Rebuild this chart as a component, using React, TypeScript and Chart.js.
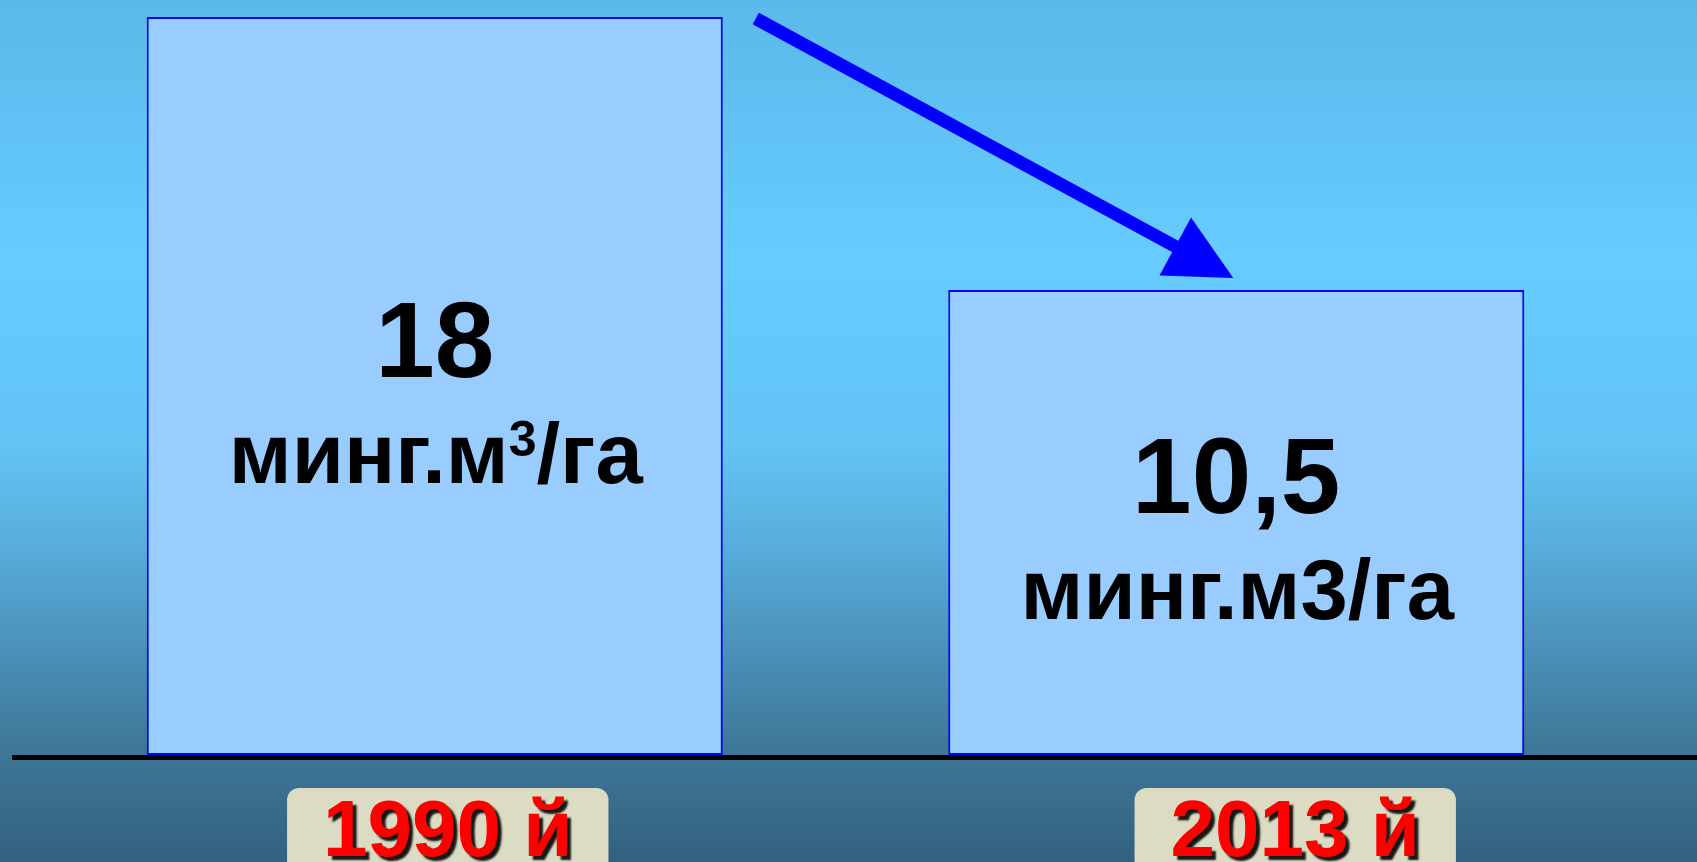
import React, { useEffect, useRef } from "react";
import { Chart, registerables } from "chart.js";

Chart.register(...registerables);

// ---- data ----
const categories = ["1990 й", "2013 й"];
const values = [18, 10.5];
const valueLabels = ["18", "10,5"];
const unitLabels = ["минг.м³/га", "минг.м3/га"];
const axisMin = -2.28;
const axisMax = 18;

const W = 1697;
const H = 862;
const FONT = '"Liberation Sans", Arial, Helvetica, sans-serif';

function drawUnit(ctx: CanvasRenderingContext2D, text: string, cx: number, baseline: number) {
  const mainFont = `bold 85px ${FONT}`;
  const supFont = `bold 50px ${FONT}`;
  const parts = text.split("³");
  ctx.textAlign = "left";
  ctx.textBaseline = "alphabetic";
  if (parts.length === 1) {
    ctx.font = mainFont;
    const w = ctx.measureText(text).width;
    ctx.fillText(text, cx - w / 2, baseline);
    return;
  }
  ctx.font = mainFont;
  const w1 = ctx.measureText(parts[0]).width;
  const w3 = ctx.measureText(parts[1]).width;
  ctx.font = supFont;
  const w2 = ctx.measureText("3").width;
  const total = w1 + w2 + w3;
  let x = cx - total / 2;
  ctx.font = mainFont;
  ctx.fillText(parts[0], x, baseline);
  x += w1;
  ctx.font = supFont;
  ctx.fillText("3", x, baseline - 27);
  x += w2;
  ctx.font = mainFont;
  ctx.fillText(parts[1], x, baseline);
}

export default function App() {
  const ref = useRef<HTMLCanvasElement>(null);

  useEffect(() => {
    document.documentElement.style.margin = "0";
    document.body.style.margin = "0";
    document.body.style.overflow = "hidden";
    const canvas = ref.current;
    if (!canvas) return;

    const bgPlugin = {
      id: "bgGradient",
      beforeDraw(chart: any) {
        const { ctx, width, height } = chart;
        const g = ctx.createLinearGradient(0, 0, 0, height);
        g.addColorStop(0.0, "#5BB8EA");
        g.addColorStop(0.3, "#66CCFF");
        g.addColorStop(0.52, "#62C3F5");
        g.addColorStop(0.63, "#58AEDC");
        g.addColorStop(0.76, "#4A8FB8");
        g.addColorStop(0.87, "#3E7797");
        g.addColorStop(1.0, "#33617F");
        ctx.save();
        ctx.fillStyle = g;
        ctx.fillRect(0, 0, width, height);
        ctx.restore();
      },
    };

    const labelShift = [13, 59];

    const overlayPlugin = {
      id: "overlay",
      afterDatasetsDraw(chart: any) {
        const ctx = chart.ctx as CanvasRenderingContext2D;
        const meta = chart.getDatasetMeta(0);
        const area = chart.chartArea;
        ctx.save();

        // base line
        ctx.fillStyle = "#000000";
        ctx.fillRect(12, area.bottom, chart.width - 12, 5);

        // value texts inside bars
        meta.data.forEach((el: any, i: number) => {
          const p = el.getProps(["x", "y", "base", "width"], true);
          const cy = (p.y + p.base) / 2;
          ctx.fillStyle = "#000000";
          ctx.textAlign = "center";
          ctx.textBaseline = "alphabetic";
          ctx.font = `bold 107px ${FONT}`;
          ctx.fillText(valueLabels[i], p.x, cy - 9);
          drawUnit(ctx, unitLabels[i], p.x + 1, cy + 97);
        });

        // arrow from first bar to second
        const a = meta.data[0].getProps(["x", "y", "width"], true);
        const b = meta.data[1].getProps(["x", "y", "width"], true);
        const sx = a.x + a.width / 2 + 33;
        const sy = a.y + 1.5;
        const tx = b.x - 3;
        const ty = b.y - 12;
        const dx = tx - sx;
        const dy = ty - sy;
        const len = Math.hypot(dx, dy);
        const ux = dx / len;
        const uy = dy / len;
        const nx = -uy;
        const ny = ux;
        const headLen = 66;
        const half = 33;
        const bx = tx - headLen * ux;
        const by = ty - headLen * uy;
        ctx.strokeStyle = "#0000FF";
        ctx.fillStyle = "#0000FF";
        ctx.lineWidth = 13;
        ctx.lineCap = "butt";
        ctx.beginPath();
        ctx.moveTo(sx, sy);
        ctx.lineTo(bx + 2 * ux, by + 2 * uy);
        ctx.stroke();
        ctx.beginPath();
        ctx.moveTo(tx, ty);
        ctx.lineTo(bx + half * nx, by + half * ny);
        ctx.lineTo(bx - half * nx, by - half * ny);
        ctx.closePath();
        ctx.fill();

        // category labels in boxes
        meta.data.forEach((el: any, i: number) => {
          const p = el.getProps(["x"], true);
          const cx = p.x + labelShift[i];
          ctx.font = `bold 80px ${FONT}`;
          const tw = ctx.measureText(categories[i]).width;
          const bw = tw + 72;
          const top = area.bottom + 33;
          ctx.fillStyle = "#DCDCC4";
          ctx.beginPath();
          (ctx as any).roundRect(cx - bw / 2, top, bw, 120, 12);
          ctx.fill();
          ctx.save();
          ctx.shadowColor = "rgba(0,0,0,0.9)";
          ctx.shadowOffsetX = 4;
          ctx.shadowOffsetY = 4;
          ctx.shadowBlur = 2;
          ctx.fillStyle = "#FF0000";
          ctx.textAlign = "center";
          ctx.textBaseline = "alphabetic";
          ctx.fillText(categories[i], cx, area.bottom + 101);
          ctx.restore();
        });

        ctx.restore();
      },
    };

    const chart = new Chart(canvas, {
      type: "bar",
      data: {
        labels: categories,
        datasets: [
          {
            data: values,
            backgroundColor: "#99CCFF",
            borderColor: "#0000FF",
            borderWidth: 2,
            borderSkipped: false,
            base: axisMin,
            categoryPercentage: 0.7187,
            barPercentage: 1,
          } as any,
        ],
      },
      options: {
        responsive: false,
        animation: false,
        layout: { padding: { left: 34, right: 60, top: 17, bottom: 107 } },
        plugins: {
          legend: { display: false },
          tooltip: { enabled: false },
        },
        scales: {
          x: { display: false },
          y: { display: false, min: axisMin, max: axisMax },
        },
      },
      plugins: [bgPlugin, overlayPlugin],
    });

    return () => chart.destroy();
  }, []);

  return (
    <div style={{ width: W, height: H, overflow: "hidden" }}>
      <canvas ref={ref} width={W} height={H} style={{ display: "block", width: W, height: H }} />
    </div>
  );
}
